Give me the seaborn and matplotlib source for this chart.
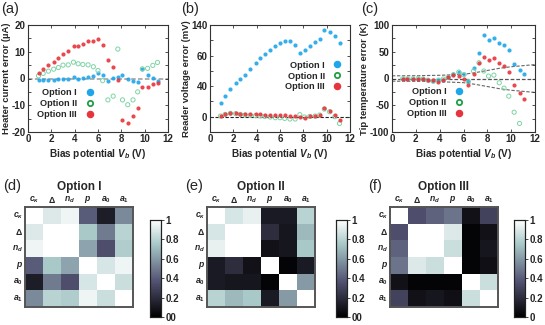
import numpy as np
import pandas as pd
import seaborn as sns
import matplotlib
matplotlib.use("Agg")
import matplotlib.pyplot as plt
from matplotlib.lines import Line2D
from matplotlib.ticker import MultipleLocator

# bias voltages (V)
vb = [0.9, 1.3, 1.75, 2.2, 2.6, 3.0, 3.45, 3.9, 4.3, 4.7, 5.15, 5.6, 6.0,
      6.4, 6.85, 7.3, 7.7, 8.1, 8.55, 9.0, 9.4, 9.8, 10.25, 10.7, 11.1]

# (a) heater current error (uA)
heater_opt1 = [-0.4, -0.4, -0.4, -0.4, -0.3, -0.3, -0.1, 0.5, -0.3, 0.1, 0.6, 0.8, 2.0,
               1.3, -1.0, 0.3, 0.5, 1.4, -0.3, -1.0, -1.4, 3.6, 1.4, 0.3, -0.8]
heater_opt2 = [1.0, 1.9, 2.75, 3.5, 4.1, 5.0, 5.1, 6.1, 5.5, 5.25, 5.1, 4.4, 3.0,
               -0.8, -8.0, -6.6, 11.0, -8.0, -9.8, -8.0, -5.0, 3.6, 3.8, 4.9, 6.0]
heater_opt3 = [2.1, 3.4, 4.9, 6.25, 7.75, 9.25, 10.1, 12.0, 12.25, 13.0, 14.0, 14.1, 14.75,
               12.6, 7.0, 4.2, -0.6, -15.6, -16.5, -13.9, -11.0, -3.0, -3.0, -2.2, -1.5]

# (b) reader voltage error (mV)
reader_opt1 = [17.8, 27, 36, 44, 49, 55, 62.7, 70, 76.4, 82, 87.6, 92, 96,
               99, 99, 94, 83, 87.6, 93, 98, 102, 113, 110.7, 105, 96.5]
reader_opt2 = [0.9, 3, 4.4, 4, 3, 2.2, 1.8, 1.3, 0.9, 0.4, -0.4, -1.3, -1.3,
               -2.2, -3, -3, 2.7, -0.4, 0.4, 0.9, 2.2, 10, 6.5, 0, -8.9]
reader_opt3 = [1.3, 3.6, 5.3, 5.3, 4, 3, 3, 3, 3, 2.5, 2.5, 2.2, 1.8,
               1.8, 1.3, 0.4, -0.5, -1.3, 0.4, 1.3, 2.2, 11, 8, 1.8, -4.4]
reader_ticks = [0, 40, 80, 120]
reader_ticklabels = ["0", "40", "60", "140"]

# (c) tip temperature error (K)
tip_opt1 = [-0.7, -0.7, -0.7, 0, -0.7, -3, -5, -3, -2, 3, 8, 13, 8,
            -5, 19, 47, 81, 72, 76, 66, 62, 53, 28, 16, 8]
tip_opt2 = [-0.5, -0.5, -0.5, 0.5, -1, -3, -5, -3, -1, 2, 7, 12, 7,
            -6, 14, 29.5, 14, 4.5, 6.3, -8, -18, -33, -63, -84, np.nan]
tip_opt3 = [-0.7, -0.7, 0, 0, -0.7, -2, -3, -7, -2, 2, 6, 5, -1,
            -12.7, 9, 28.4, 39.7, 34.6, 39, 28.4, 24, 12.6, -12.7, -27.3, -38.7]
env_x = [0, 2, 4, 6, 7, 8, 9, 10, 11, 12]
env_upper = [5, 5.2, 6, 7.8, 11, 15, 19, 22, 24, 26]
env_lower = [-5, -5.2, -6, -7.8, -11, -15, -19, -22, -24, -26]

# (d)-(f) correlation matrices
params = [r"$c_\kappa$", r"$\Delta$", r"$n_d$", r"$p$", r"$a_0$", r"$a_1$"]
corr_opt1 = [[1.00, 0.90, 0.95, 0.40, 0.13, 0.55],
             [0.90, 1.00, 1.00, 0.75, 0.50, 0.80],
             [0.95, 1.00, 1.00, 0.63, 0.35, 0.77],
             [0.40, 0.75, 0.63, 1.00, 0.88, 0.95],
             [0.13, 0.50, 0.35, 0.88, 1.00, 0.85],
             [0.55, 0.80, 0.77, 0.95, 0.85, 1.00]]
corr_opt2 = [[1.00, 0.88, 0.93, 0.12, 0.12, 0.80],
             [0.88, 1.00, 1.00, 0.20, 0.10, 0.70],
             [0.93, 1.00, 1.00, 0.08, 0.10, 0.75],
             [0.12, 0.20, 0.08, 1.00, 0.02, 0.12],
             [0.12, 0.10, 0.10, 0.02, 1.00, 0.60],
             [0.80, 0.70, 0.75, 0.12, 0.60, 1.00]]
corr_opt3 = [[1.00, 0.35, 0.42, 0.48, 0.08, 0.30],
             [0.35, 1.00, 1.00, 0.90, 0.02, 0.08],
             [0.42, 1.00, 1.00, 0.85, 0.02, 0.10],
             [0.48, 0.90, 0.85, 1.00, 0.02, 0.07],
             [0.08, 0.02, 0.02, 0.02, 1.00, 0.85],
             [0.30, 0.08, 0.10, 0.07, 0.85, 1.00]]
cbar_ticks = [0, 0.2, 0.4, 0.6, 0.8, 1]

options = ["Option I", "Option II", "Option III"]
blue, green_pt, green_leg, red = "#1fa6ea", "#7fd4a6", "#1f9e45", "#e8343c"

sns.set_style("ticks")
plt.rcParams["font.family"] = ["Liberation Sans", "DejaVu Sans"]
plt.rcParams["font.weight"] = "bold"
plt.rcParams["axes.labelweight"] = "bold"
plt.rcParams["axes.unicode_minus"] = False
plt.rcParams["mathtext.fontset"] = "custom"
plt.rcParams["mathtext.it"] = "Liberation Sans:italic:bold"
plt.rcParams["mathtext.rm"] = "Liberation Sans"
plt.rcParams["mathtext.bf"] = "Liberation Sans:bold"

W, H = 545, 325
fig = plt.figure(figsize=(W / 100, H / 100), dpi=100)


def box(l, t, r, b):
    return [l / W, 1 - b / H, (r - l) / W, (b - t) / H]


def error_panel(ax, y1, y2, y3, ylabel):
    sns.scatterplot(x=vb, y=y1, ax=ax, color=blue, s=9, linewidth=0, alpha=0.9)
    sns.scatterplot(x=vb, y=y2, ax=ax, color=green_pt, s=9, linewidth=0.7)
    ax.collections[-1].set_facecolor("none")
    ax.collections[-1].set_edgecolor(green_pt)
    sns.scatterplot(x=vb, y=y3, ax=ax, color=red, s=9, linewidth=0, alpha=0.9)
    ax.set_xlim(0, 12)
    ax.xaxis.set_major_locator(MultipleLocator(2))
    ax.set_xlabel(r"Bias potential $V_b$ (V)", fontsize=7.2, labelpad=1.5)
    ax.set_ylabel(ylabel, fontsize=6.8, labelpad=0.5)
    ax.tick_params(which="both", direction="in", top=True, right=True,
                   length=2.5, width=0.6, labelsize=7, pad=1.8, color="#333")
    for sp in ax.spines.values():
        sp.set_linewidth(0.8)
        sp.set_color("#333")


def add_legend(ax, anchor):
    handles = [Line2D([], [], ls="none", marker="o", ms=4.4, color=blue, mec=blue),
               Line2D([], [], ls="none", marker="o", ms=3.8, mfc="none", mec=green_leg, mew=1.3),
               Line2D([], [], ls="none", marker="o", ms=4.4, color=red, mec=red)]
    ax.legend(handles, options, loc="lower left", bbox_to_anchor=anchor, frameon=False,
              markerfirst=False, fontsize=6.6, labelspacing=0.2, handlelength=1.0,
              handletextpad=0.9, borderpad=0.2)


# (a)
axa = fig.add_axes(box(28, 25, 168, 132))
error_panel(axa, heater_opt1, heater_opt2, heater_opt3, "Heater current error (µA)")
axa.axhline(0, color="#9a9a9a", lw=1.1, ls=(0, (3, 1.5)), zorder=0)
axa.set_ylim(-20, 20)
axa.yaxis.set_major_locator(MultipleLocator(10))
axa.yaxis.set_minor_locator(MultipleLocator(5))
add_legend(axa, (0.02, 0.06))

# (b)
axb = fig.add_axes(box(210, 25, 350, 132))
error_panel(axb, reader_opt1, reader_opt2, reader_opt3, "Reader voltage error (mV)")
axb.axhline(0, color="#222222", lw=0.8, ls=(0, (3, 1.5)), zorder=0)
axb.set_ylim(-20, 120)
axb.set_yticks(reader_ticks)
axb.set_yticklabels(reader_ticklabels)
axb.yaxis.set_minor_locator(MultipleLocator(20))
add_legend(axb, (0.49, 0.32))

# (c)
axc = fig.add_axes(box(392, 25, 535, 132))
error_panel(axc, tip_opt1, tip_opt2, tip_opt3, "Tip temperature error (K)")
axc.axhline(0, color="#555555", lw=0.9, ls=(0, (3, 1.5)), zorder=0)
sns.lineplot(x=env_x, y=env_upper, ax=axc, color="#666666", lw=0.8, ls=(0, (3, 1.5)), zorder=0)
sns.lineplot(x=env_x, y=env_lower, ax=axc, color="#666666", lw=0.8, ls=(0, (3, 1.5)), zorder=0)
axc.set_ylim(-100, 100)
axc.yaxis.set_major_locator(MultipleLocator(50))
axc.yaxis.set_minor_locator(MultipleLocator(25))
add_legend(axc, (0.06, 0.07))

for x, lab in [(1, "(a)"), (181, "(b)"), (361, "(c)")]:
    fig.text(x / W, 1 - 9 / H, lab, fontsize=10.5, weight="normal", va="center")

# (d)-(f) correlation heatmaps
heat = [(corr_opt1, "Option I", "(d)", 25, 150, "00"),
        (corr_opt2, "Option II", "(e)", 207, 336, "00"),
        (corr_opt3, "Option III", "(f)", 390, 514, "0")]
for corr, title, lab, x0, cx, zero in heat:
    ax = fig.add_axes(box(x0, 207, x0 + 108, 307))
    cax = fig.add_axes(box(cx, 220, cx + 11, 317))
    df = pd.DataFrame(corr, index=params, columns=params)
    sns.heatmap(df, ax=ax, cbar_ax=cax, cmap="bone", vmin=0, vmax=1, square=False)
    ax.xaxis.tick_top()
    ax.tick_params(length=0, labelsize=6.2, pad=1.5)
    ax.set_yticklabels(params, rotation=0)
    ax.set_xticklabels(params, rotation=0)
    for sp in ax.spines.values():
        sp.set_visible(True)
        sp.set_linewidth(1.4)
        sp.set_color("#555555")
    cax.set_yticks(cbar_ticks)
    cax.set_yticklabels([zero, "0.2", "0.4", "0.6", "0.8", "1"])
    cax.tick_params(labelsize=7, length=2, width=0.6, pad=1.5)
    for sp in cax.spines.values():
        sp.set_visible(True)
        sp.set_linewidth(0.8)
        sp.set_color("#222222")
    fig.text((x0 + 54) / W, 1 - 187 / H, title, fontsize=8.5, ha="center", va="center")
    fig.text((x0 - 22) / W, 1 - 186 / H, lab, fontsize=10.5, weight="normal", va="center")

fig.savefig("out.png", dpi=100)
